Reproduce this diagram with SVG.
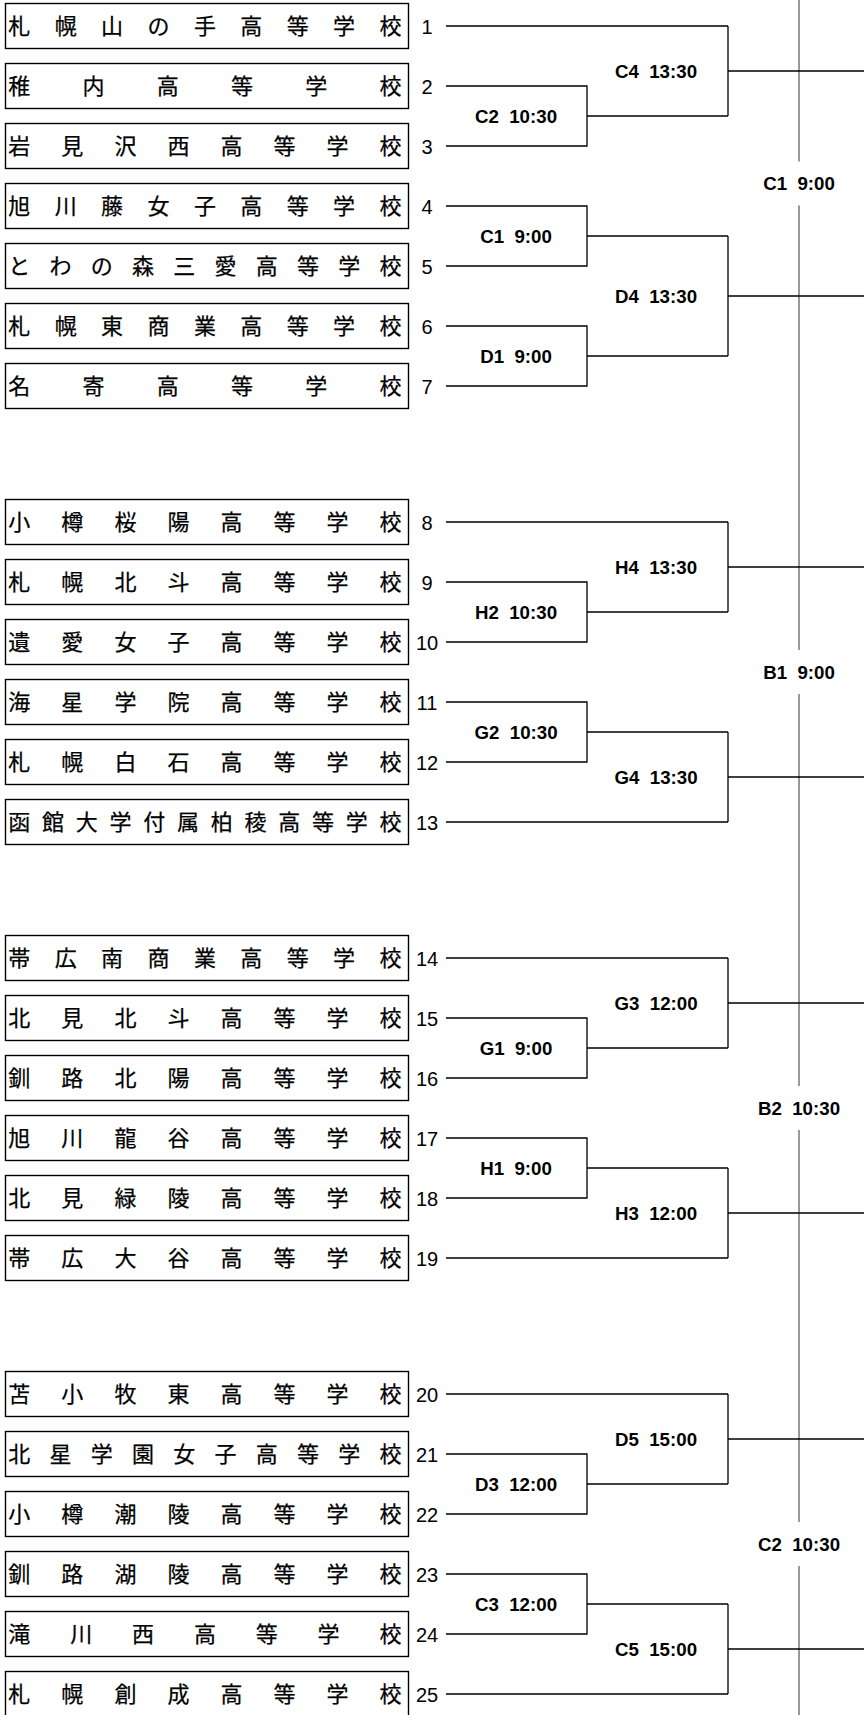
<svg xmlns="http://www.w3.org/2000/svg" width="864" height="1715" viewBox="0 0 864 1715">
<style>
.box{fill:#fff;stroke:#000;stroke-width:1.4}
.nm{font-family:"Noto Sans CJK JP","Noto Sans CJK SC",sans-serif;font-size:22px;fill:#000;stroke:#000;stroke-width:0.25}
.no{font-family:"Liberation Sans",Arial,sans-serif;font-size:20px;fill:#000;text-anchor:middle}
.lb{font-family:"Liberation Sans",Arial,sans-serif;font-size:18.7px;font-weight:bold;fill:#000;text-anchor:middle;white-space:pre}
.ln{fill:none;stroke:#000;stroke-width:1.3}
.gr{fill:none;stroke:#999;stroke-width:2}
</style>
<rect width="864" height="1715" fill="#fff"/>
<g id="rail">
<path class="gr" d="M799,0 V161.5 M799,205.5 V650 M799,694 V1086 M799,1130 V1522 M799,1566 V1715"/>
</g>
<g id="connectors">
<path class="ln" d="M446,26 H728 M446,86 H587 V146 H446 M587,116 H728 M728,26 V116 M728,71 H864"/>
<path class="ln" d="M446,206 H587 V266 H446 M587,236 H728 M446,326 H587 V386 H446 M587,356 H728 M728,236 V356 M728,296 H864"/>
<path class="ln" d="M446,522 H728 M446,582 H587 V642 H446 M587,612 H728 M728,522 V612 M728,567 H864"/>
<path class="ln" d="M446,702 H587 V762 H446 M587,732 H728 M446,822 H728 M728,732 V822 M728,777 H864"/>
<path class="ln" d="M446,958 H728 M446,1018 H587 V1078 H446 M587,1048 H728 M728,958 V1048 M728,1003 H864"/>
<path class="ln" d="M446,1138 H587 V1198 H446 M587,1168 H728 M446,1258 H728 M728,1168 V1258 M728,1213 H864"/>
<path class="ln" d="M446,1394 H728 M446,1454 H587 V1514 H446 M587,1484 H728 M728,1394 V1484 M728,1439 H864"/>
<path class="ln" d="M446,1574 H587 V1634 H446 M587,1604 H728 M446,1694 H728 M728,1604 V1694 M728,1649 H864"/>
</g>
<g id="team1"><rect class="box" x="5.5" y="3.5" width="403" height="45"/><text class="nm" y="34" x="8.3 54.7 101.1 147.5 193.9 240.3 286.7 333.1 379.5">札幌山の手高等学校</text><text class="no" x="427" y="33.5">1</text></g>
<g id="team2"><rect class="box" x="5.5" y="63.5" width="403" height="45"/><text class="nm" y="94" x="8.3 82.5 156.8 231 305.3 379.5">稚内高等学校</text><text class="no" x="427" y="93.5">2</text></g>
<g id="team3"><rect class="box" x="5.5" y="123.5" width="403" height="45"/><text class="nm" y="154" x="8.3 61.3 114.4 167.4 220.4 273.5 326.5 379.5">岩見沢西高等学校</text><text class="no" x="427" y="153.5">3</text></g>
<g id="team4"><rect class="box" x="5.5" y="183.5" width="403" height="45"/><text class="nm" y="214" x="8.3 54.7 101.1 147.5 193.9 240.3 286.7 333.1 379.5">旭川藤女子高等学校</text><text class="no" x="427" y="213.5">4</text></g>
<g id="team5"><rect class="box" x="5.5" y="243.5" width="403" height="45"/><text class="nm" y="274" x="8.3 49.5 90.8 132 173.3 214.5 255.7 297 338.2 379.5">とわの森三愛高等学校</text><text class="no" x="427" y="273.5">5</text></g>
<g id="team6"><rect class="box" x="5.5" y="303.5" width="403" height="45"/><text class="nm" y="334" x="8.3 54.7 101.1 147.5 193.9 240.3 286.7 333.1 379.5">札幌東商業高等学校</text><text class="no" x="427" y="333.5">6</text></g>
<g id="team7"><rect class="box" x="5.5" y="363.5" width="403" height="45"/><text class="nm" y="394" x="8.3 82.5 156.8 231 305.3 379.5">名寄高等学校</text><text class="no" x="427" y="393.5">7</text></g>
<g id="team8"><rect class="box" x="5.5" y="499.5" width="403" height="45"/><text class="nm" y="530" x="8.3 61.3 114.4 167.4 220.4 273.5 326.5 379.5">小樽桜陽高等学校</text><text class="no" x="427" y="529.5">8</text></g>
<g id="team9"><rect class="box" x="5.5" y="559.5" width="403" height="45"/><text class="nm" y="590" x="8.3 61.3 114.4 167.4 220.4 273.5 326.5 379.5">札幌北斗高等学校</text><text class="no" x="427" y="589.5">9</text></g>
<g id="team10"><rect class="box" x="5.5" y="619.5" width="403" height="45"/><text class="nm" y="650" x="8.3 61.3 114.4 167.4 220.4 273.5 326.5 379.5">遺愛女子高等学校</text><text class="no" x="427" y="649.5">10</text></g>
<g id="team11"><rect class="box" x="5.5" y="679.5" width="403" height="45"/><text class="nm" y="710" x="8.3 61.3 114.4 167.4 220.4 273.5 326.5 379.5">海星学院高等学校</text><text class="no" x="427" y="709.5">11</text></g>
<g id="team12"><rect class="box" x="5.5" y="739.5" width="403" height="45"/><text class="nm" y="770" x="8.3 61.3 114.4 167.4 220.4 273.5 326.5 379.5">札幌白石高等学校</text><text class="no" x="427" y="769.5">12</text></g>
<g id="team13"><rect class="box" x="5.5" y="799.5" width="403" height="45"/><text class="nm" y="830" x="8.3 42 75.8 109.5 143.3 177 210.8 244.5 278.3 312 345.8 379.5">函館大学付属柏稜高等学校</text><text class="no" x="427" y="829.5">13</text></g>
<g id="team14"><rect class="box" x="5.5" y="935.5" width="403" height="45"/><text class="nm" y="966" x="8.3 54.7 101.1 147.5 193.9 240.3 286.7 333.1 379.5">帯広南商業高等学校</text><text class="no" x="427" y="965.5">14</text></g>
<g id="team15"><rect class="box" x="5.5" y="995.5" width="403" height="45"/><text class="nm" y="1026" x="8.3 61.3 114.4 167.4 220.4 273.5 326.5 379.5">北見北斗高等学校</text><text class="no" x="427" y="1025.5">15</text></g>
<g id="team16"><rect class="box" x="5.5" y="1055.5" width="403" height="45"/><text class="nm" y="1086" x="8.3 61.3 114.4 167.4 220.4 273.5 326.5 379.5">釧路北陽高等学校</text><text class="no" x="427" y="1085.5">16</text></g>
<g id="team17"><rect class="box" x="5.5" y="1115.5" width="403" height="45"/><text class="nm" y="1146" x="8.3 61.3 114.4 167.4 220.4 273.5 326.5 379.5">旭川龍谷高等学校</text><text class="no" x="427" y="1145.5">17</text></g>
<g id="team18"><rect class="box" x="5.5" y="1175.5" width="403" height="45"/><text class="nm" y="1206" x="8.3 61.3 114.4 167.4 220.4 273.5 326.5 379.5">北見緑陵高等学校</text><text class="no" x="427" y="1205.5">18</text></g>
<g id="team19"><rect class="box" x="5.5" y="1235.5" width="403" height="45"/><text class="nm" y="1266" x="8.3 61.3 114.4 167.4 220.4 273.5 326.5 379.5">帯広大谷高等学校</text><text class="no" x="427" y="1265.5">19</text></g>
<g id="team20"><rect class="box" x="5.5" y="1371.5" width="403" height="45"/><text class="nm" y="1402" x="8.3 61.3 114.4 167.4 220.4 273.5 326.5 379.5">苫小牧東高等学校</text><text class="no" x="427" y="1401.5">20</text></g>
<g id="team21"><rect class="box" x="5.5" y="1431.5" width="403" height="45"/><text class="nm" y="1462" x="8.3 49.5 90.8 132 173.3 214.5 255.7 297 338.2 379.5">北星学園女子高等学校</text><text class="no" x="427" y="1461.5">21</text></g>
<g id="team22"><rect class="box" x="5.5" y="1491.5" width="403" height="45"/><text class="nm" y="1522" x="8.3 61.3 114.4 167.4 220.4 273.5 326.5 379.5">小樽潮陵高等学校</text><text class="no" x="427" y="1521.5">22</text></g>
<g id="team23"><rect class="box" x="5.5" y="1551.5" width="403" height="45"/><text class="nm" y="1582" x="8.3 61.3 114.4 167.4 220.4 273.5 326.5 379.5">釧路湖陵高等学校</text><text class="no" x="427" y="1581.5">23</text></g>
<g id="team24"><rect class="box" x="5.5" y="1611.5" width="403" height="45"/><text class="nm" y="1642" x="8.3 70.2 132 193.9 255.8 317.6 379.5">滝川西高等学校</text><text class="no" x="427" y="1641.5">24</text></g>
<g id="team25"><rect class="box" x="5.5" y="1671.5" width="403" height="45"/><text class="nm" y="1702" x="8.3 61.3 114.4 167.4 220.4 273.5 326.5 379.5">札幌創成高等学校</text><text class="no" x="427" y="1701.5">25</text></g>
<g id="match-labels">
<text class="lb" xml:space="preserve" x="516" y="122.5">C2  10:30</text>
<text class="lb" xml:space="preserve" x="656" y="77.5">C4  13:30</text>
<text class="lb" xml:space="preserve" x="516" y="242.5">C1  9:00</text>
<text class="lb" xml:space="preserve" x="516" y="362.5">D1  9:00</text>
<text class="lb" xml:space="preserve" x="656" y="302.5">D4  13:30</text>
<text class="lb" xml:space="preserve" x="516" y="618.5">H2  10:30</text>
<text class="lb" xml:space="preserve" x="656" y="573.5">H4  13:30</text>
<text class="lb" xml:space="preserve" x="516" y="738.5">G2  10:30</text>
<text class="lb" xml:space="preserve" x="656" y="783.5">G4  13:30</text>
<text class="lb" xml:space="preserve" x="516" y="1054.5">G1  9:00</text>
<text class="lb" xml:space="preserve" x="656" y="1009.5">G3  12:00</text>
<text class="lb" xml:space="preserve" x="516" y="1174.5">H1  9:00</text>
<text class="lb" xml:space="preserve" x="656" y="1219.5">H3  12:00</text>
<text class="lb" xml:space="preserve" x="516" y="1490.5">D3  12:00</text>
<text class="lb" xml:space="preserve" x="656" y="1445.5">D5  15:00</text>
<text class="lb" xml:space="preserve" x="516" y="1610.5">C3  12:00</text>
<text class="lb" xml:space="preserve" x="656" y="1655.5">C5  15:00</text>
<text class="lb" xml:space="preserve" x="799" y="190">C1  9:00</text>
<text class="lb" xml:space="preserve" x="799" y="678.5">B1  9:00</text>
<text class="lb" xml:space="preserve" x="799" y="1114.5">B2  10:30</text>
<text class="lb" xml:space="preserve" x="799" y="1550.5">C2  10:30</text>
</g>
</svg>
